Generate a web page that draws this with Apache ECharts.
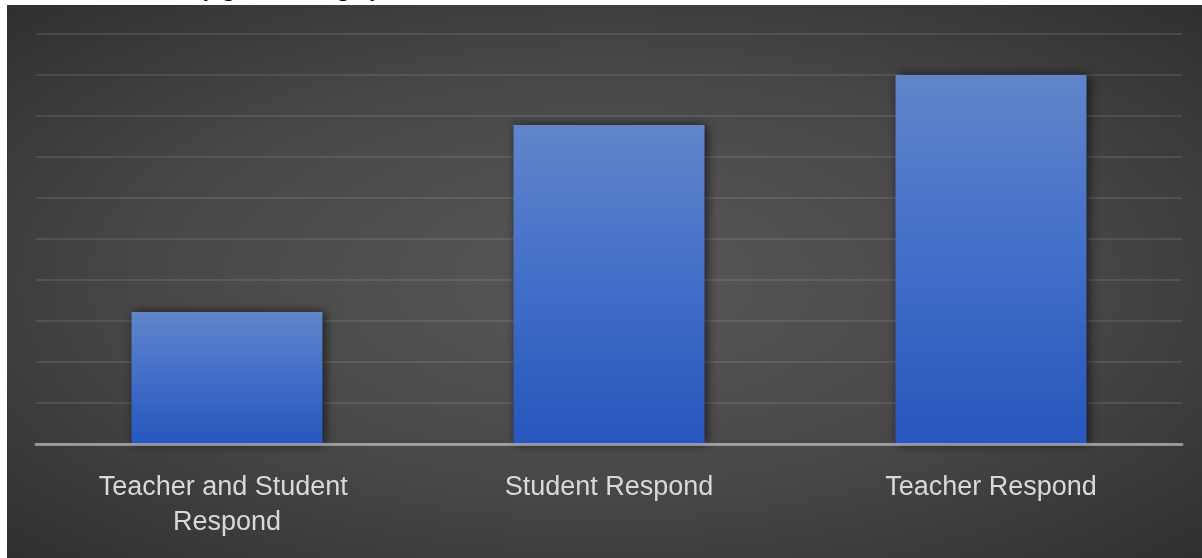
<!DOCTYPE html>
<html><head><meta charset="utf-8">
<script src="https://cdn.jsdelivr.net/npm/echarts@6/dist/echarts.min.js"></script>
<style>html,body{margin:0;padding:0;background:#fff;overflow:hidden}#c{width:1202px;height:558px}</style>
</head><body><div id="c"></div>
<script>
// ---- data ----
const categories = ['Teacher and Student Respond', 'Student Respond', 'Teacher Respond'];
const values = [16.1, 38.9, 45];
const yMin = 0;
const yMax = 50;
const yStep = 5;
const captionText = 'by gender category';

// ---- chart ----
const chart = echarts.init(document.getElementById('c'), null, {renderer: 'canvas'});
const W = 1202, H = 558, bgX = 7, bgY = 5;
const bgW = W - bgX, bgH = H - bgY;

chart.setOption({
  animation: false,
  backgroundColor: '#ffffff',
  graphic: [
    {
      type: 'text',
      z: -20,
      x: 191, y: 2,
      style: {
        text: captionText,
        font: '25px "Liberation Serif", "Times New Roman", serif',
        fill: '#000',
        verticalAlign: 'bottom'
      }
    },
    {
      type: 'rect',
      z: -10,
      x: bgX, y: bgY,
      scaleX: bgW / bgH,
      shape: {x: 0, y: 0, width: bgH, height: bgH},
      style: {
        fill: new echarts.graphic.RadialGradient(0.5, 0.5, 0.85, [
          {offset: 0, color: '#585858'},
          {offset: 0.45, color: '#474747'},
          {offset: 1, color: '#252525'}
        ])
      }
    }
  ],
  grid: {left: 36, right: 20, top: 34, bottom: 114, containLabel: false},
  xAxis: {
    type: 'category',
    data: categories,
    z: 5,
    axisLine: {show: true, lineStyle: {color: 'rgba(205,205,205,0.6)', width: 3}},
    axisTick: {show: false},
    axisLabel: {
      color: '#d9d9d9',
      fontFamily: '"Liberation Sans", Arial, sans-serif',
      fontSize: 27,
      lineHeight: 35,
      margin: 26,
      width: 290,
      overflow: 'break',
      interval: 0
    }
  },
  yAxis: {
    type: 'value',
    min: yMin, max: yMax, interval: yStep,
    axisLine: {show: false},
    axisTick: {show: false},
    axisLabel: {show: false},
    splitLine: {show: true, lineStyle: {color: 'rgba(255,255,255,0.13)', width: 1.5}}
  },
  series: [{
    type: 'bar',
    data: values,
    barWidth: '50%',
    itemStyle: {
      color: new echarts.graphic.LinearGradient(0, 0, 0, 1, [
        {offset: 0, color: '#6285ca'},
        {offset: 0.5, color: '#416ec7'},
        {offset: 1, color: '#2756bd'}
      ]),
      shadowBlur: 10,
      shadowColor: 'rgba(0,0,0,0.65)',
      shadowOffsetX: 2,
      shadowOffsetY: 0
    }
  }]
});
</script>
</body></html>
